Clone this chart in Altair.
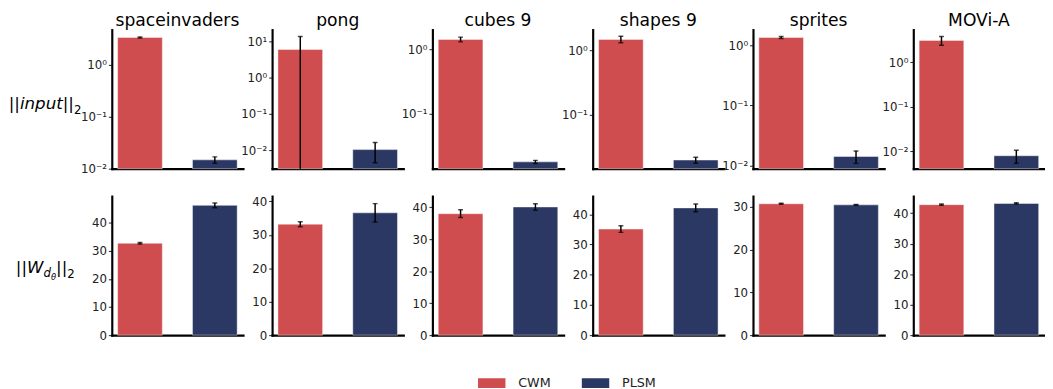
import altair as alt
import pandas as pd

# ---------------- data ----------------
DATASETS = ["spaceinvaders", "pong", "cubes 9", "shapes 9", "sprites", "MOVi-A"]
MODELS = ["CWM", "PLSM"]

# ||input||_2  (log scale)
INPUT_CWM = [3.4, 6.0, 1.42, 1.47, 1.35, 3.1]
INPUT_CWM_ERR = [0.08, 7.7, 0.12, 0.17, 0.05, 0.68]
INPUT_PLSM = [0.0148, 0.0104, 0.0181, 0.0200, 0.0142, 0.0080]
INPUT_PLSM_ERR = [0.0021, 0.0059, 0.0010, 0.0021, 0.0033, 0.0026]

# ||W_dθ||_2  (linear scale)
WEIGHT_CWM = [32.7, 33.2, 38.0, 35.1, 30.7, 42.8]
WEIGHT_CWM_ERR = [0.25, 0.75, 1.2, 1.1, 0.12, 0.2]
WEIGHT_PLSM = [46.2, 36.6, 40.1, 42.1, 30.45, 43.2]
WEIGHT_PLSM_ERR = [0.85, 2.75, 1.0, 1.3, 0.1, 0.2]

INPUT_DOMAINS = [[0.01, 4.8], [0.0031, 21.1], [0.0142, 2.01],
                 [0.0147, 2.08], [0.0089, 1.82], [0.0041, 5.4]]
WEIGHT_DOMAINS = [[0, 49.5], [0, 41.6], [0, 43.5], [0, 46.0], [0, 32.5], [0, 45.6]]
LOG_TICKS = [0.01, 0.1, 1, 10]


def build(cwm, cwm_err, plsm, plsm_err, domains, log):
    rows = []
    for i, d in enumerate(DATASETS):
        for m, v, e in (("CWM", cwm[i], cwm_err[i]), ("PLSM", plsm[i], plsm_err[i])):
            lo = v - e
            if log and lo <= 0:
                lo = domains[i][0] / 10.0
            rows.append({"dataset": d, "model": m, "value": v, "lo": lo, "hi": v + e})
    return pd.DataFrame(rows)


df_in = build(INPUT_CWM, INPUT_CWM_ERR, INPUT_PLSM, INPUT_PLSM_ERR, INPUT_DOMAINS, True)
df_w = build(WEIGHT_CWM, WEIGHT_CWM_ERR, WEIGHT_PLSM, WEIGHT_PLSM_ERR, WEIGHT_DOMAINS, False)

# ---------------- style ----------------
FONT = "DejaVu Sans"
COLORS = ["#d04d4f", "#2c3864"]
PANEL_W, PANEL_H = 134, 142
LOG_EXPR = ("datum.value >= 9.99 ? '10\u00b9' : datum.value >= 0.999 ? '10\u2070' : "
            "datum.value >= 0.0999 ? '10\u207b\u00b9' : '10\u207b\u00b2'")
SWATCH = "M-1,-0.357L1,-0.357L1,0.357L-1,0.357Z"

COLOR = alt.Color(
    "model:N",
    scale=alt.Scale(domain=MODELS, range=COLORS),
    legend=alt.Legend(title=None, orient="none", legendX=374, legendY=347,
                      direction="horizontal", columns=2, symbolType=SWATCH,
                      symbolSize=784, symbolStrokeWidth=0, symbolOpacity=1,
                      labelFontSize=13, labelOffset=13, columnPadding=31,
                      labelColor="#222222", labelFont=FONT),
)

# row label pieces: (text, x offset, dy, font size, style)
ROW1_LABEL = [("||", -105.3, 0, 17, "normal"), ("input", -93.8, 0, 17, "italic"),
              ("||", -50.1, 0, 17, "normal"), ("2", -38.6, 5, 12, "normal")]
ROW1_BASE = 81.5
ROW2_LABEL = [("||", -98.0, 0, 17, "normal"), ("W", -86.5, 0, 17, "italic"),
              ("d", -69.7, 4, 12, "italic"), ("\u03b8", -62.1, 6.5, 8.5, "italic"),
              ("||", -56.9, 0, 17, "normal"), ("2", -45.4, 5, 12, "normal")]
ROW2_BASE = 79


def text_layer(t, x, y, size, style="normal", align="left"):
    return (
        alt.Chart(pd.DataFrame({"t": [t]}))
        .mark_text(align=align, baseline="alphabetic", fontSize=size, fontStyle=style,
                   font=FONT, color="black")
        .encode(text="t:N", x=alt.value(x), y=alt.value(y))
    )


def panel(df, i, log, title=False, label=None):
    name = DATASETS[i]
    if log:
        dom = INPUT_DOMAINS[i]
        ticks = [t for t in LOG_TICKS if dom[0] <= t <= dom[1]]
        yscale = alt.Scale(type="log", domain=dom, nice=False)
        yaxis = alt.Axis(values=ticks, labelExpr=LOG_EXPR, title=None)
    else:
        dom = WEIGHT_DOMAINS[i]
        ticks = list(range(0, int(dom[1]) + 1, 10))
        yscale = alt.Scale(domain=dom, nice=False)
        yaxis = alt.Axis(values=ticks, title=None)
    xenc = alt.X("model:N",
                 scale=alt.Scale(domain=MODELS, paddingInner=0.403, paddingOuter=0.078),
                 axis=alt.Axis(labels=False, ticks=False, title=None))
    base = alt.Chart(df).transform_filter(alt.datum.dataset == name)
    bar_enc = dict(x=xenc, y=alt.Y("value:Q", scale=yscale, axis=yaxis), color=COLOR)
    if log:
        bar_enc["y2"] = alt.Y2(datum=dom[0])
    bars = base.mark_bar(stroke="white", strokeWidth=1, strokeOpacity=0.45).encode(**bar_enc)
    err = base.mark_errorbar(ticks=True, size=5, thickness=1.5, color="black",
                             clip=True).encode(
        x=xenc, y=alt.Y("lo:Q", scale=yscale, axis=yaxis), y2="hi:Q")
    layers = [bars, err]
    if label is not None:
        pieces, base_y = label
        layers += [text_layer(t, x, base_y + dy, sz, st) for t, x, dy, sz, st in pieces]
    if title:
        layers.append(text_layer(name, PANEL_W / 2, -4, 17.5, align="center"))
    return alt.layer(*layers).properties(width=PANEL_W, height=PANEL_H)


panels = [panel(df_in, i, True, title=True, label=(ROW1_LABEL, ROW1_BASE) if i == 0 else None)
          for i in range(6)]
panels += [panel(df_w, i, False, label=(ROW2_LABEL, ROW2_BASE) if i == 0 else None)
           for i in range(6)]

chart = (
    alt.concat(*panels, columns=6, spacing={"row": 28, "column": 29.7}, bounds="flush",
               padding=0)
    .resolve_scale(y="independent", x="independent")
    .configure(font=FONT)
    .configure_view(stroke=None)
    .configure_axis(grid=False, domainColor="black", domainWidth=2.2, domainCap="square",
                    tickColor="#222222", tickSize=3.5, tickWidth=1, labelFontSize=12,
                    labelColor="#222222", labelPadding=2, labelFont=FONT)
)

chart.save("out.html", embed_options={"renderer": "svg", "actions": False})
